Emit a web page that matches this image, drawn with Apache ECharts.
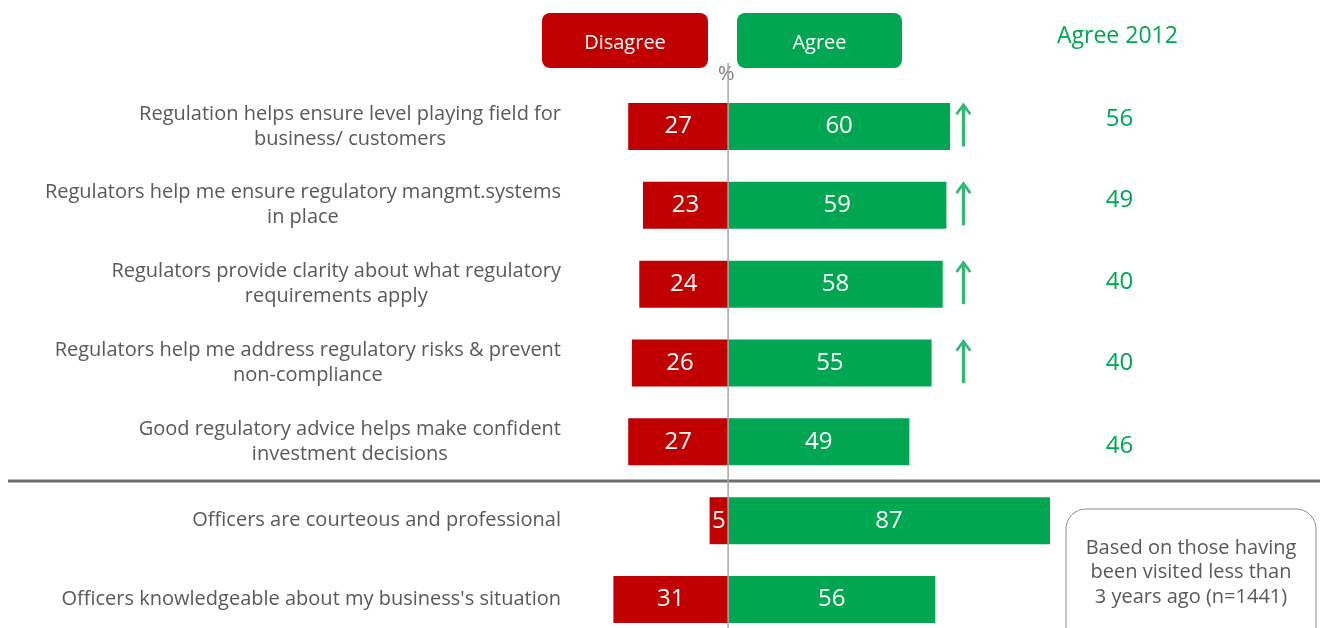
<!DOCTYPE html>
<html>
<head>
<meta charset="utf-8">
<script src="https://cdn.jsdelivr.net/npm/echarts@6/dist/echarts.min.js"></script>
<style>
  html, body { margin: 0; padding: 0; background: #fff; }
  #main { width: 1320px; height: 628px; }
</style>
</head>
<body>
<div id="main"></div>
<script>
// data
const categories = [
    'Regulation helps ensure level playing field for\nbusiness/ customers',
    'Regulators help me ensure regulatory mangmt.systems\nin place',
    'Regulators provide clarity about what regulatory\nrequirements apply',
    'Regulators help me address regulatory risks & prevent\nnon-compliance',
    'Good regulatory advice helps make confident\ninvestment decisions',
    'Officers are courteous and professional',
    "Officers knowledgeable about my business's situation"
]
const disagree = [27, 23, 24, 26, 27, 5, 31]
const agree = [60, 59, 58, 55, 49, 87, 56]
const agree2012 = ['56', '49', '40', '40', '46', '', '']
const risen = [true, true, true, true, false, false, false]

const RED = '#c00000'
const GREEN = '#00a651'
const GREY = '#595959'
const FONT = '"Open Sans", sans-serif'

const X_MIN = -43
const X_MAX = 89
const ARROW_X = 63.6 // arrows sit just right of the longest agree bar

// 2012 column is not quite on the row centres in the original (px, + = down)
const shift2012 = [-7, -5, -2, 0, 4, 0, 0]

// 上箭头
const ARROW = 'path://M8,0 L16,11 L13.8,12.6 L9.6,6.8 L9.6,44 L6.4,44 L6.4,6.8 L2.2,12.6 L0,11 Z'

function labelLines(v) {
    // each line centred inside the block, block right-aligned to the axis
    return v.split('\n').map(l => '{c|' + l + '}').join('\n')
}

function shiftStyles() {
    let rich = {}
    shift2012.forEach((s, i) => {
        rich['p' + i] = {
            color: GREEN,
            fontSize: 24,
            fontFamily: FONT,
            padding: s < 0 ? [0, 0, -2 * s, 0] : [2 * s, 0, 0, 0]
        }
    })
    return rich
}

function legendBox(color, w) {
    return {
        backgroundColor: color, color: '#fff', width: w, height: 49, padding: [6, 0, 0, 0],
        align: 'center', borderRadius: 8, fontSize: 20, fontFamily: FONT
    }
}

var myChart = echarts.init(document.getElementById('main'));

let arrowData = []
risen.forEach((r, i) => {
    if (r) arrowData.push([ARROW_X, i])
})

let option = {
    animation: false,
    textStyle: { fontFamily: FONT },
    legend: {
        top: 13,
        left: 537,
        padding: 0,
        itemGap: 24,
        itemWidth: 0,
        itemHeight: 0,
        icon: 'rect',
        selectedMode: false,
        data: ['Disagree', 'Agree'],
        formatter: name => '{' + (name === 'Disagree' ? 'd' : 'a') + '|' + name + '}',
        textStyle: {
            rich: {
                d: legendBox(RED, 166),
                a: legendBox(GREEN, 165)
            }
        }
    },
    grid: {
        left: 569,
        top: 87,
        width: (X_MAX - X_MIN) * 3.7,
        bottom: -11,
        outerBoundsMode: 'none'
    },
    xAxis: {
        type: 'value',
        min: X_MIN,
        max: X_MAX,
        show: false
    },
    yAxis: [
        {
            type: 'category',
            inverse: true,
            data: categories,
            position: 'left',
            axisLine: { show: false },
            axisTick: { show: false },
            axisLabel: {
                margin: 8,
                formatter: labelLines,
                rich: {
                    c: { align: 'center', color: GREY, fontSize: 20, lineHeight: 25, fontFamily: FONT }
                }
            }
        },
        {
            type: 'category',
            inverse: true,
            data: categories,
            position: 'right',
            axisLine: { show: false },
            axisTick: { show: false },
            axisLabel: {
                margin: 62,
                align: 'center',
                color: GREEN,
                fontSize: 24,
                fontFamily: FONT,
                formatter: (v, i) => agree2012[i] ? '{p' + i + '|' + agree2012[i] + '}' : '',
                rich: shiftStyles()
            }
        }
    ],
    series: [
        {
            name: 'Disagree',
            type: 'bar',
            stack: 'total',
            barWidth: 47,
            data: disagree.map(v => -v),
            itemStyle: { color: RED },
            label: {
                show: true,
                position: 'inside',
                color: '#fff',
                fontSize: 24,
                fontFamily: FONT,
                formatter: p => Math.abs(p.value)
            }
        },
        {
            name: 'Agree',
            type: 'bar',
            stack: 'total',
            barWidth: 47,
            data: agree,
            itemStyle: { color: GREEN },
            label: {
                show: true,
                position: 'inside',
                color: '#fff',
                fontSize: 24,
                fontFamily: FONT
            }
        },
        {
            name: 'risen',
            type: 'scatter',
            symbol: ARROW,
            symbolSize: [16, 44],
            symbolOffset: [0, -2],
            itemStyle: { color: GREEN },
            data: arrowData
        }
    ]
};

myChart.setOption(option);

// 中线, 分隔线, 注释框
let zeroX = myChart.convertToPixel({ xAxisIndex: 0 }, 0)
let rowA = myChart.convertToPixel({ yAxisIndex: 0 }, categories[4])
let rowB = myChart.convertToPixel({ yAxisIndex: 0 }, categories[5])
let splitY = Math.round((rowA + rowB) / 2)

myChart.setOption({
    graphic: [
        {
            type: 'line',
            z: 10,
            shape: { x1: zeroX, y1: 63, x2: zeroX, y2: 628 },
            style: { stroke: '#a6a6a6', lineWidth: 1.5 }
        },
        {
            type: 'text',
            left: zeroX - 10,
            top: 64,
            style: { text: '%', fill: '#7f7f7f', font: '20px ' + FONT }
        },
        {
            type: 'line',
            shape: { x1: 8, y1: splitY, x2: 1320, y2: splitY },
            style: { stroke: '#6e6e6e', lineWidth: 3 }
        },
        {
            type: 'text',
            left: 1057,
            top: 25,
            style: { text: 'Agree 2012', fill: GREEN, font: '23px ' + FONT }
        },
        {
            type: 'rect',
            shape: { x: 1066, y: 509, width: 250, height: 140, r: 20 },
            style: { fill: 'none', stroke: '#8c8c8c', lineWidth: 1 }
        },
        {
            type: 'text',
            x: 1191,
            y: 536,
            style: {
                text: 'Based on those having\nbeen visited less than\n3 years ago (n=1441)',
                fill: GREY,
                font: '20px ' + FONT,
                lineHeight: 24.5,
                align: 'center'
            }
        }
    ]
});
</script>
</body>
</html>
